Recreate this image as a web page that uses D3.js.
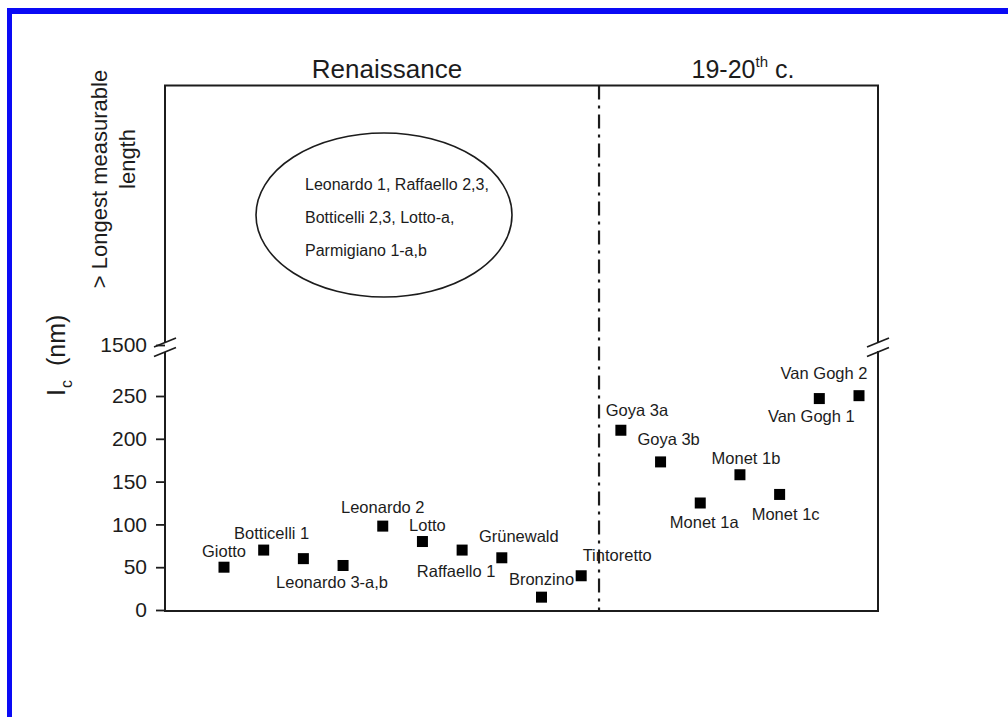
<!DOCTYPE html>
<html>
<head>
<meta charset="utf-8">
<script src="https://cdn.jsdelivr.net/npm/d3@7/dist/d3.min.js"></script>
<style>
  html, body { margin: 0; padding: 0; background: #fff; }
  svg { display: block; font-family: "Liberation Sans", Arial, sans-serif; }
</style>
</head>
<body>
<svg id="chart" width="1008" height="717"></svg>
<script>
// Painting samples, left to right along the x axis
const painters = [
  "Giotto", "Botticelli 1", "Leonardo 3-a", "Leonardo 3-b", "Leonardo 2",
  "Lotto", "Raffaello 1", "Grünewald", "Bronzino", "Tintoretto",
  "Goya 3a", "Goya 3b", "Monet 1a", "Monet 1b", "Monet 1c",
  "Van Gogh 1", "Van Gogh 2"
];
// Correlation length l_c in nm
const lcValues = [50, 70, 60, 52, 98, 80, 70, 61, 15, 40,
                  210, 173, 125, 158, 135, 247, 258];
// Period of each sample
const periods = ["Renaissance", "Renaissance", "Renaissance", "Renaissance", "Renaissance",
                 "Renaissance", "Renaissance", "Renaissance", "Renaissance", "Renaissance",
                 "19-20", "19-20", "19-20", "19-20", "19-20", "19-20", "19-20"];
// Text printed next to each marker (one label covers both Leonardo 3 samples)
const pointLabels = ["Giotto", "Botticelli 1", "", "Leonardo 3-a,b", "Leonardo 2",
                     "Lotto", "Raffaello 1", "Grünewald", "Bronzino", "Tintoretto",
                     "Goya 3a", "Goya 3b", "Monet 1a", "Monet 1b", "Monet 1c",
                     "Van Gogh 1", "Van Gogh 2"];
// Y axis ticks: linear part up to 250, then a break up to 1500
const yTickValues = [0, 50, 100, 150, 200, 250, 1500];
// Samples whose l_c exceeds the measurable range
const offScaleLines = ["Leonardo 1, Raffaello 2,3,", "Botticelli 2,3, Lotto-a,", "Parmigiano 1-a,b"];

// Label placement relative to each marker (dx, dy to the text baseline centre)
const labelOffsets = [
  [0, -10], [8, -11], [0, 0], [-11, 23], [0, -13],
  [5, -11], [-6, 27], [17, -16], [0, -12], [36, -15],
  [16, -14], [8, -17], [4, 25], [6, -11], [6, 26],
  [-8, 23], [-35, -17]
];

const svg = d3.select("#chart");
const ink = "#1c1c1c";

// Page frame in blue (top and left edges)
svg.append("rect").attr("x", 7).attr("y", 8).attr("width", 1001).attr("height", 6).attr("fill", "#0a0af5");
svg.append("rect").attr("x", 7).attr("y", 8).attr("width", 5).attr("height", 709).attr("fill", "#0a0af5");

const plot = { left: 165, right: 878, top: 85.5, bottom: 611 };

const x = d3.scalePoint().domain(painters).range([224, 859]);
const y = d3.scaleLinear().domain([0, 250, 1500]).range([610, 396, 345]);

// Frame of the plot, with gaps for the axis break
const breakTop = 343, breakBottom = 352;
const frame = svg.append("g").attr("stroke", ink).attr("stroke-width", 2).attr("fill", "none");
frame.append("path").attr("d",
  `M${plot.left},${breakTop}V${plot.top}H${plot.right}V${breakTop - 1}`);
frame.append("path").attr("d",
  `M${plot.left},${breakBottom}V${plot.bottom}H${plot.right}V${breakBottom - 1}`);

// Break marks on both vertical axes
[plot.left, plot.right].forEach(ax => {
  [breakTop - 0.5, breakBottom].forEach(by => {
    frame.append("line")
      .attr("x1", ax - 11).attr("y1", by + 4.5)
      .attr("x2", ax + 11).attr("y2", by - 4.5)
      .attr("stroke-width", 1.8);
  });
});

// Left axis ticks and labels
const yAxis = d3.axisLeft(y).tickValues(yTickValues).tickSize(9).tickPadding(9).tickFormat(d3.format("d"));
const gAxis = svg.append("g").attr("transform", `translate(${plot.left},0)`).call(yAxis);
gAxis.select(".domain").remove();
gAxis.selectAll(".tick line").attr("stroke", ink).attr("stroke-width", 1.8);
gAxis.selectAll(".tick text")
  .attr("fill", ink).attr("font-size", 21)
  .attr("font-family", "Liberation Sans, Arial, sans-serif");

// Divider between the two periods
const lastRen = painters[periods.lastIndexOf("Renaissance")];
const firstModern = painters[periods.indexOf("19-20")];
const divX = (x(lastRen) + x(firstModern)) / 2 - 2;
svg.append("line")
  .attr("x1", divX).attr("x2", divX)
  .attr("y1", plot.top).attr("y2", plot.bottom)
  .attr("stroke", ink).attr("stroke-width", 2.2)
  .attr("stroke-dasharray", "14,6,3,6");

// Period titles
svg.append("text").attr("x", 387).attr("y", 78).attr("text-anchor", "middle")
  .attr("font-size", 26).attr("fill", ink).text("Renaissance");
const modern = svg.append("text").attr("x", 743).attr("y", 78).attr("text-anchor", "middle")
  .attr("font-size", 25).attr("fill", ink);
modern.append("tspan").text("19-20");
modern.append("tspan").attr("font-size", 15).attr("dy", -11).text("th");
modern.append("tspan").attr("dy", 11).text(" c.");

// Y axis title
const yTitle = svg.append("text")
  .attr("transform", "translate(65,396) rotate(-90)")
  .attr("font-size", 25).attr("fill", ink);
yTitle.append("tspan").text("I");
yTitle.append("tspan").attr("font-size", 16).attr("dy", 7).attr("dx", 1).text("c");
yTitle.append("tspan").attr("dy", -7).attr("dx", 14).text("(nm)");

// Upper region title
svg.append("text").attr("transform", "translate(107,179) rotate(-90)")
  .attr("text-anchor", "middle").attr("font-size", 22).attr("fill", ink)
  .text("> Longest measurable");
svg.append("text").attr("transform", "translate(135,159) rotate(-90)")
  .attr("text-anchor", "middle").attr("font-size", 22).attr("fill", ink)
  .text("length");

// Ellipse listing off-scale samples
svg.append("ellipse").attr("cx", 384).attr("cy", 215).attr("rx", 128).attr("ry", 82)
  .attr("fill", "none").attr("stroke", ink).attr("stroke-width", 1.6);
svg.append("g").selectAll("text").data(offScaleLines).join("text")
  .attr("x", 305).attr("y", (d, i) => 190 + i * 33)
  .attr("font-size", 16).attr("fill", ink)
  .text(d => d);

// Markers
const pts = painters.map((p, i) => ({ name: p, value: lcValues[i], label: pointLabels[i], off: labelOffsets[i] }));
svg.append("g").selectAll("rect").data(pts).join("rect")
  .attr("x", d => x(d.name) - 5.5).attr("y", d => y(d.value) - 5.5)
  .attr("width", 11).attr("height", 11).attr("fill", "#000");

// Marker labels
svg.append("g").selectAll("text").data(pts.filter(d => d.label)).join("text")
  .attr("x", d => x(d.name) + d.off[0])
  .attr("y", d => y(d.value) + d.off[1])
  .attr("text-anchor", "middle").attr("font-size", 16.5).attr("fill", ink)
  .text(d => d.label);
</script>
</body>
</html>
